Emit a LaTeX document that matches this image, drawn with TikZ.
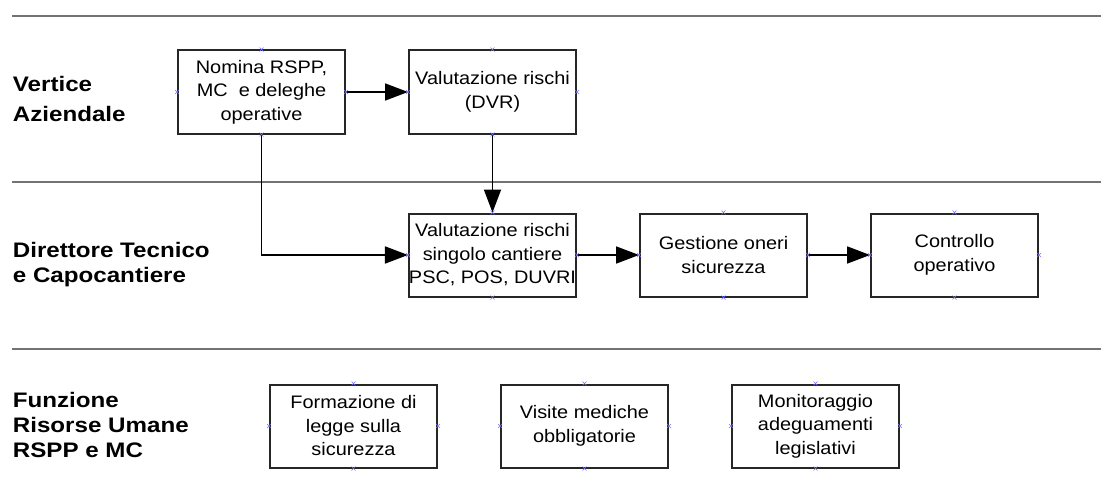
\documentclass[tikz,border=0pt]{standalone}
\usepackage{fontspec}
\setmainfont{Liberation Sans}[FakeStretch=1.1]
\newfontfamily\lanefont{Liberation Sans}[FakeStretch=1.15]
\usetikzlibrary{arrows.meta, positioning, shapes.misc}
\def\boxsep{62pt}

\begin{document}
\begin{tikzpicture}[x=1pt,y=-1pt,line width=1.8pt,-{Triangle[length=23pt,width=17pt]},node distance=\boxsep]
    \tikzstyle{activity}=[-, draw=black!85, line width=2pt, rectangle, minimum width=167pt, minimum height=83pt, inner sep=0pt, align=center, font=\fontsize{18.1}{23.5}\selectfont]
    \tikzstyle{lane}=[anchor=west, align=left, inner sep=0pt, font=\lanefont\bfseries\fontsize{21}{25}\selectfont]
    \tikzstyle{lane line}=[-, draw=black!55, line width=1.4pt]
    \tikzstyle{pin mark}=[-, cross out, draw=blue!55, line width=0.5pt, minimum size=3.5pt, inner sep=0pt]

    \useasboundingbox (0,0) rectangle (1101,495);

%   swimlanes
    \foreach \y [count=\i] in {16,182,349}{
        \coordinate (L-\i) at (12,\y);
        \coordinate (R-\i) at (1101,\y);
        \draw[lane line] (L-\i) -- (R-\i);
    }

    \node[lane] (vertice) at (12,99) {Vertice\\[5pt]Aziendale};
    \node[lane] (direttore) at (12,264.5) {Direttore Tecnico\\e Capocantiere};
    \node[lane] (funzione) at (12,425) {Funzione\\Risorse Umane\\RSPP e MC};

%   activities
    \node[activity] (nomina) at (261.5,92) {Nomina RSPP,\\MC\ \ e deleghe\\operative};
    \node[activity, right=of nomina] (dvr) {Valutazione rischi\\(DVR)};
    \node[activity, below=78pt of dvr] (cantiere) {Valutazione rischi\\singolo cantiere\\PSC, POS, DUVRI};
    \node[activity, right=of cantiere] (oneri) {Gestione oneri\\sicurezza};
    \node[activity, right=of oneri] (controllo) {Controllo\\operativo};

    \node[activity] (formazione) at (353.5,426) {Formazione di\\legge sulla\\sicurezza};
    \node[activity, right=of formazione] (visite) {Visite mediche\\obbligatorie};
    \node[activity, right=of visite] (monitoraggio) {Monitoraggio\\adeguamenti\\legislativi};

    \path (nomina) edge (dvr);
    \path (dvr) edge (cantiere);
    \path (cantiere) edge (oneri);
    \path (oneri) edge (controllo);
    \draw (nomina.south) |- (cantiere.west);

%   connection points
    \foreach \n in {nomina,dvr,cantiere,oneri,controllo,formazione,visite,monitoraggio}
        \foreach \a in {north,south,east,west}
            \node[pin mark] (\n-\a) at (\n.\a) {};
\end{tikzpicture}
\end{document}
